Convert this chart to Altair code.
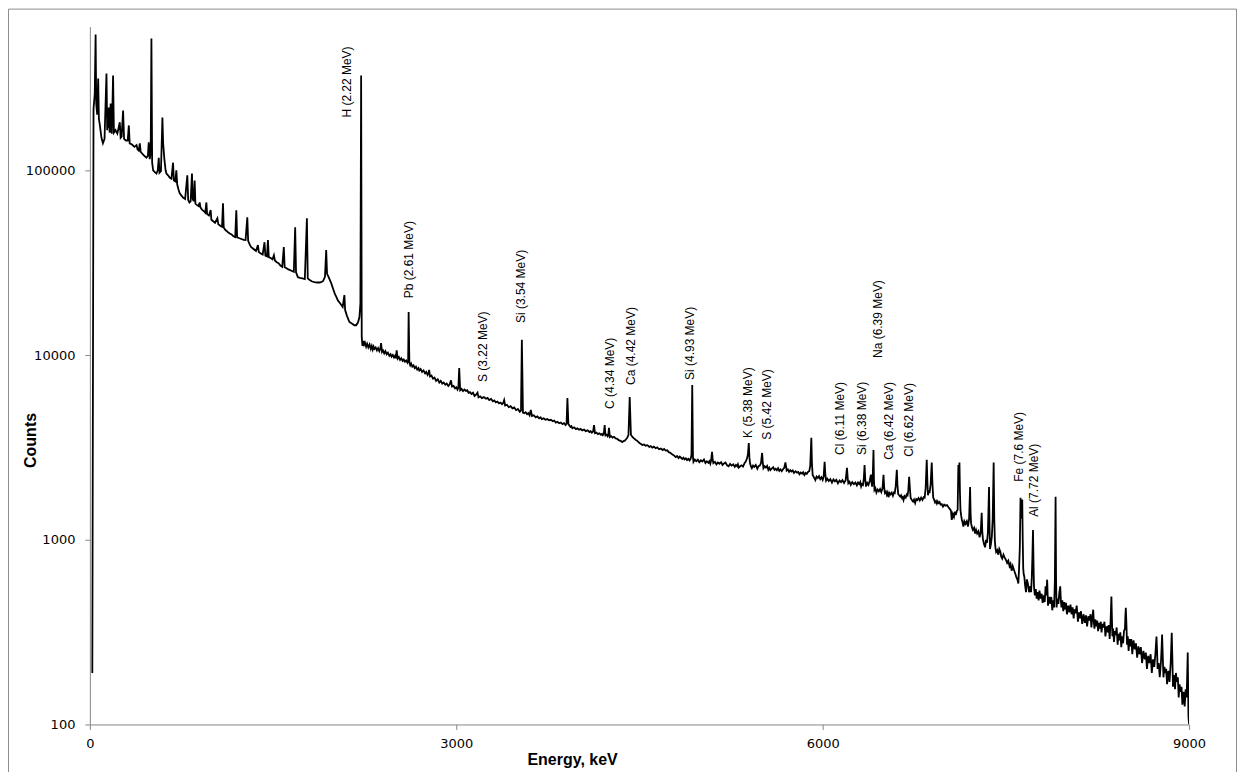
import altair as alt
import pandas as pd

# ---- Spectrum (energy in keV, counts), in segments ----
low_energy = [
    20, 30, 40, 47, 52, 60, 68, 74, 82, 95, 107, 120, 136, 142, 148, 152, 155, 162, 170, 176,
    180, 190, 197, 210, 225, 245, 252, 260, 272, 280, 295, 310, 319, 326, 345, 365, 382, 390, 400, 409,
    416, 440, 463, 475, 482, 490, 498, 504, 510, 518, 530, 545, 556, 564, 570, 582, 594, 600, 610, 620,
    627, 640, 655, 668, 681, 688, 700, 708, 715, 725, 736, 750, 765, 780, 798, 805, 815, 825, 836, 842,
    850, 858, 864, 875, 890, 899, 905, 920, 935, 945, 954, 960, 975, 989, 995, 1010, 1025, 1044, 1052, 1070,
    1082, 1090, 1096, 1110, 1120, 1131, 1145, 1160, 1175, 1190, 1199, 1206, 1220, 1240, 1260, 1275, 1289, 1296, 1310, 1321,
    1340, 1360, 1376, 1383, 1400, 1415, 1430, 1437, 1450, 1458, 1465, 1480, 1495, 1507, 1515, 1530, 1545, 1560, 1575, 1588,
    1595, 1610, 1625, 1640, 1655, 1670, 1681, 1688, 1703, 1720, 1740, 1760, 1777, 1784, 1800, 1820, 1839, 1860, 1880, 1894,
    1910, 1925, 1935, 1942, 1955, 1976, 1990, 2005, 2020, 2030, 2050, 2070, 2084, 2090, 2105, 2125, 2145, 2165, 2180, 2195,
    2207, 2215, 2221,
]
low_counts = [
    190, 215000, 260000, 543000, 230000, 200000, 314000, 190000, 175000, 150000, 140000, 148000, 334000, 165000, 200000, 170000, 219000, 160000, 230000, 165000,
    158000, 326000, 160000, 165000, 158000, 182000, 150000, 152000, 211000, 148000, 145000, 145000, 175000, 140000, 138000, 134000, 137000, 130000, 128000, 140000,
    126000, 121000, 117000, 120000, 142000, 115000, 125000, 517000, 110000, 100000, 98000, 96000, 100000, 117000, 97000, 99000, 193000, 140000, 115000, 100000,
    96000, 94000, 91000, 90000, 110000, 88000, 87000, 100000, 84000, 79000, 75000, 73000, 71000, 70000, 94000, 69000, 67000, 68000, 96000, 70000,
    68000, 88000, 66000, 65000, 64000, 67000, 63000, 61000, 60000, 59000, 67000, 58000, 57000, 61000, 54000, 53000, 52000, 55000, 51000, 50000,
    49500, 66400, 49000, 47500, 47000, 46200, 45500, 45000, 44000, 43500, 60800, 43400, 43000, 42500, 42000, 41900, 55700, 41500, 39500, 38400,
    37500, 36600, 39400, 36100, 35500, 35000, 40800, 34500, 34200, 41900, 33900, 33500, 33000, 34700, 32500, 31800, 31400, 30500, 30000, 38400,
    29900, 29500, 29100, 28800, 28500, 28200, 49200, 28000, 26400, 26200, 26000, 25800, 55000, 26000, 25500, 25000, 24800, 24700, 24700, 24800,
    25200, 26500, 37000, 27500, 26400, 24500, 23000, 21500, 20500, 19800, 19000, 18200, 21100, 17500, 16300, 15100, 14800, 14500, 14500, 15000,
    16000, 19000, 326000,
]

mid_energy = [
    2226, 2232, 2238, 2245, 2252, 2262, 2270, 2280, 2290, 2300, 2308, 2316, 2323, 2330, 2340, 2350, 2360, 2370, 2378, 2384,
    2392, 2400, 2410, 2420, 2430, 2440, 2452, 2462, 2470, 2480, 2490, 2498, 2505, 2512, 2520, 2530, 2540, 2550, 2561, 2570,
    2580, 2590, 2600, 2606, 2610, 2616, 2623, 2630, 2640, 2650, 2660, 2670, 2680, 2690, 2697, 2708, 2720, 2732, 2745, 2755,
    2765, 2772, 2778, 2785, 2797, 2810, 2822, 2835, 2848, 2861, 2873, 2885, 2897, 2910, 2922, 2935, 2946, 2957, 2965, 2978,
    2990, 3000, 3010, 3017, 3024, 3032, 3043, 3055, 3067, 3079, 3090, 3100, 3112, 3125, 3137, 3150, 3162, 3174, 3182, 3196,
    3210, 3226, 3243, 3256, 3270, 3285, 3300, 3312, 3324, 3337, 3350, 3362, 3375, 3384, 3392, 3400, 3415, 3430, 3445, 3460,
    3475, 3490, 3505, 3520, 3530, 3537, 3546, 3556, 3568, 3580, 3590, 3600, 3610, 3620, 3635, 3650, 3664, 3678, 3690, 3700,
    3715, 3730, 3745, 3760, 3775, 3790, 3802, 3815, 3828, 3842, 3856, 3870, 3882, 3895, 3903, 3910, 3918, 3926, 3935, 3943,
    3951, 3965, 3980, 3992, 4005, 4018, 4032, 4046, 4060, 4075, 4090, 4100, 4110, 4120, 4128, 4136, 4148, 4160, 4172, 4185,
    4193, 4200, 4208, 4215, 4222, 4232, 4240, 4245, 4250, 4258, 4268, 4280, 4292, 4305, 4318, 4330, 4345, 4359, 4370, 4380,
    4390, 4400, 4410, 4420, 4430, 4442, 4455, 4468, 4480, 4490, 4500, 4512, 4523, 4537, 4550, 4565, 4580, 4592, 4605, 4618,
    4632, 4646, 4660, 4675, 4690, 4702, 4714, 4727, 4740, 4755, 4770, 4783, 4796, 4808, 4820, 4830, 4840, 4850, 4860, 4870,
    4880, 4890, 4900, 4910, 4920, 4926, 4932, 4938, 4942, 4953, 4965, 4978, 4990, 5003, 5015, 5028, 5040, 5052, 5065, 5072,
    5080, 5087, 5094, 5100, 5105, 5118, 5130, 5142, 5155, 5168, 5180, 5192, 5204, 5217, 5230, 5242, 5255, 5268, 5280, 5290,
    5300, 5306, 5313, 5325, 5335, 5348, 5360, 5370, 5380, 5388, 5395, 5400, 5405, 5412, 5420, 5430, 5440, 5452, 5465, 5475,
    5485, 5495, 5504, 5510, 5515, 5525, 5535, 5545, 5555, 5563, 5572, 5583, 5595, 5605, 5615, 5625, 5635, 5645, 5655, 5665,
    5675, 5685, 5695, 5705, 5715, 5725, 5735, 5745, 5755, 5765, 5778, 5790, 5800, 5810, 5820, 5831, 5840, 5850, 5860, 5870,
    5880, 5890, 5898, 5907, 5912, 5918, 5928, 5940, 5950, 5960, 5970, 5980, 5990, 6000, 6008, 6016, 6022, 6028, 6038, 6050,
    6063, 6076, 6088, 6100, 6112, 6125, 6138, 6150, 6162, 6175, 6188, 6199, 6205, 6210, 6220, 6230, 6242, 6255, 6268, 6280,
    6290, 6300, 6308, 6315, 6322, 6330, 6337, 6343, 6349, 6355, 6365, 6375, 6385, 6395, 6400, 6405, 6410, 6416, 6420, 6424,
    6432, 6440, 6450, 6460, 6470, 6480, 6490, 6498, 6504, 6510, 6518, 6525, 6532, 6539, 6547, 6555, 6565, 6575, 6583, 6590,
    6598, 6607, 6612, 6618, 6626, 6635, 6642, 6650, 6656, 6662, 6671, 6680, 6688, 6695, 6701, 6708, 6714, 6720, 6730, 6740,
    6748, 6757, 6766, 6775, 6785, 6795, 6806, 6817, 6827, 6835, 6843, 6852, 6857, 6862, 6868, 6875, 6884, 6893, 6899, 6905,
    6912, 6920, 6928, 6935, 6942, 6948, 6957, 6965, 6975, 6985, 6995, 7005, 7018, 7030, 7040,
]
mid_counts = [
    12500, 11200, 11900, 11400, 11700, 11100, 11500, 11000, 11400, 10800, 11200, 10700, 11100, 10800, 11000, 10600, 10900, 10500, 10800, 11600,
    10400, 10600, 10200, 10500, 10100, 10300, 9900, 10100, 9800, 10000, 9700, 9900, 9600, 10600, 9550, 9750, 9400, 9600, 9300, 9450,
    9200, 9350, 9100, 9300, 17100, 9100, 8800, 9000, 8650, 8800, 8500, 8650, 8350, 8500, 8250, 8400, 8100, 8250, 7950, 8100,
    7800, 7950, 8300, 7650, 7750, 7450, 7550, 7250, 7400, 7100, 7250, 7000, 7100, 6900, 7000, 6800, 6950, 7300, 6750, 6800,
    6600, 6700, 6500, 6650, 8510, 6450, 6550, 6380, 6500, 6400, 6450, 6250, 6300, 6150, 6250, 6000, 6100, 6260, 5900, 5980,
    5850, 5920, 5800, 5860, 5700, 5780, 5620, 5680, 5540, 5600, 5470, 5530, 5420, 5500, 5700, 5330, 5380, 5220, 5290, 5140,
    5200, 5030, 5100, 4930, 5000, 12100, 4880, 4840, 4900, 4780, 4850, 4720, 5040, 4680, 4720, 4600, 4650, 4540, 4600, 4500,
    4540, 4460, 4500, 4430, 4460, 4380, 4420, 4310, 4350, 4270, 4310, 4230, 4280, 4180, 4250, 5850, 4230, 4150, 4080, 4120,
    4010, 4060, 3970, 4010, 3940, 3980, 3910, 3950, 3870, 3910, 3830, 3870, 3800, 3850, 4180, 3770, 3800, 3730, 3770, 3700,
    3740, 3680, 3750, 4180, 3670, 3700, 3630, 3700, 4030, 3600, 3640, 3570, 3610, 3540, 3520, 3460, 3430, 3380, 3420, 3440,
    3500, 3560, 3700, 5930, 3700, 3600, 3540, 3480, 3440, 3390, 3340, 3300, 3260, 3280, 3230, 3250, 3180, 3210, 3150, 3190,
    3130, 3160, 3090, 3120, 3060, 3100, 3040, 3050, 2980, 2950, 2890, 2860, 2800, 2840, 2770, 2820, 2780, 2740, 2780, 2720,
    2760, 2700, 2740, 2690, 2760, 2900, 6890, 2800, 2640, 2720, 2660, 2710, 2630, 2690, 2650, 2720, 2600, 2660, 2610, 2660,
    2580, 2700, 2990, 2700, 2600, 2640, 2560, 2620, 2580, 2630, 2540, 2590, 2620, 2530, 2500, 2570, 2520, 2560, 2480, 2540,
    2500, 2560, 2460, 2500, 2530, 2490, 2600, 2650, 2750, 2900, 3340, 2800, 2600, 2500, 2440, 2520, 2480, 2540, 2420, 2500,
    2520, 2600, 2950, 2600, 2440, 2500, 2460, 2510, 2390, 2450, 2380, 2430, 2470, 2390, 2420, 2380, 2440, 2360, 2400, 2350,
    2410, 2450, 2620, 2370, 2400, 2330, 2380, 2340, 2370, 2300, 2350, 2310, 2330, 2260, 2310, 2280, 2320, 2240, 2300, 2270,
    2330, 2350, 2500, 3560, 2600, 2240, 2180, 2100, 2200, 2160, 2210, 2130, 2180, 2110, 2200, 2640, 2250, 2090, 2140, 2080,
    2130, 2040, 2120, 2070, 2110, 2020, 2090, 2050, 2100, 2030, 2100, 2450, 2150, 2020, 2060, 1980, 2050, 2000, 2040, 1970,
    2040, 2000, 2050, 1940, 2000, 1980, 2150, 2540, 2100, 1940, 2030, 1980, 2080, 2250, 2050, 1940, 2200, 3060, 2100, 1860,
    1900, 1800, 1870, 1830, 1880, 1810, 1900, 2250, 1900, 1790, 1820, 1750, 1800, 1700, 1790, 1760, 1800, 1730, 1800, 1790,
    1950, 2390, 2000, 1770, 1740, 1710, 1740, 1680, 1700, 1640, 1720, 1690, 1760, 1740, 1850, 2190, 1900, 1690, 1640, 1610,
    1650, 1580, 1660, 1640, 1680, 1630, 1690, 1640, 1700, 1690, 1900, 2710, 2100, 1740, 1850, 1790, 2000, 2620, 2000, 1690,
    1650, 1590, 1620, 1570, 1610, 1580, 1600, 1550, 1560, 1510, 1550, 1530, 1540, 1500, 1470,
]

high_energy = [
    7050, 7057, 7066, 7075, 7083, 7090, 7098, 7105, 7111, 7116, 7120, 7124, 7128, 7134, 7140, 7146, 7152, 7160, 7170, 7180,
    7190, 7199, 7207, 7211, 7215, 7222, 7230, 7240, 7248, 7256, 7265, 7275, 7285, 7294, 7302, 7307, 7312, 7320, 7330, 7337,
    7345, 7353, 7362, 7366, 7370, 7378, 7385, 7392, 7400, 7405, 7410, 7415, 7420, 7429, 7438, 7446, 7455, 7462, 7470, 7480,
    7490, 7500, 7510, 7520, 7530, 7538, 7547, 7556, 7565, 7575, 7585, 7594, 7602, 7608, 7614, 7620, 7624, 7628, 7634, 7638,
    7642, 7646, 7651, 7658, 7665, 7672, 7680, 7690, 7700, 7706, 7712, 7717, 7722, 7727, 7730, 7737, 7745, 7752, 7760, 7768,
    7775, 7784, 7793, 7801, 7810, 7818, 7825, 7831, 7838, 7845, 7855, 7865, 7872, 7880, 7888, 7895, 7901, 7907, 7911, 7915,
    7922, 7930, 7938, 7945, 7950, 7955, 7962, 7970, 7978, 7985, 7992, 8000, 8010, 8020, 8029, 8038, 8046, 8055, 8062, 8070,
    8080, 8090, 8098, 8105, 8115, 8125, 8136, 8147, 8156, 8165, 8175, 8185, 8193, 8200, 8208, 8215, 8220, 8225, 8232, 8240,
    8248, 8255, 8262, 8270, 8277, 8283, 8291, 8300, 8307, 8315, 8325, 8335, 8342, 8350, 8357, 8364, 8368, 8372, 8378, 8385,
    8392, 8400, 8407, 8415, 8422, 8430, 8437, 8445, 8452, 8460, 8467, 8475, 8478, 8482, 8487, 8492, 8498, 8505, 8512, 8520,
    8527, 8535, 8545, 8556, 8565, 8575, 8585, 8595, 8605, 8615, 8626, 8637, 8646, 8655, 8665, 8675, 8685, 8695, 8705, 8715,
    8724, 8733, 8738, 8742, 8751, 8760, 8770, 8775, 8779, 8784, 8790, 8798, 8805, 8812, 8820, 8830, 8840, 8850, 8858, 8863,
    8868, 8876, 8885, 8892, 8900, 8908, 8915, 8922, 8930, 8938, 8945, 8955, 8964, 8972, 8980, 8985, 8989, 8993, 8995, 9000,
]
high_counts = [
    1440, 1280, 1380, 1330, 1420, 1360, 1430, 1450, 2540, 2300, 2620, 1800, 1450, 1350, 1280, 1240, 1180, 1260, 1220, 1260,
    1180, 1300, 1930, 1400, 1230, 1170, 1130, 1160, 1080, 1130, 1080, 1110, 1030, 1100, 1400, 1100, 1010, 950, 910, 1000,
    960, 1100, 1930, 1200, 890, 950, 1040, 1300, 2620, 1300, 980, 900, 860, 880, 830, 890, 860, 810, 790, 830,
    800, 780, 750, 770, 720, 740, 680, 720, 690, 660, 630, 610, 580, 700, 900, 1690, 1300, 1500, 1650, 1000,
    700, 650, 631, 560, 520, 610, 580, 520, 560, 520, 620, 800, 1130, 700, 560, 500, 540, 480, 520, 470,
    530, 480, 510, 455, 500, 460, 560, 500, 608, 440, 490, 450, 490, 415, 470, 430, 600, 1710, 600, 430,
    480, 450, 520, 560, 470, 430, 470, 410, 460, 420, 455, 395, 440, 405, 445, 395, 430, 375, 420, 400,
    440, 360, 405, 375, 410, 350, 395, 355, 390, 340, 385, 365, 395, 335, 380, 418, 360, 330, 370, 340,
    365, 320, 355, 330, 360, 315, 350, 335, 360, 300, 340, 315, 345, 290, 360, 492, 380, 300, 330, 280,
    320, 305, 335, 270, 310, 285, 315, 262, 300, 275, 320, 330, 380, 428, 350, 270, 300, 250, 290, 265,
    290, 240, 285, 255, 275, 230, 265, 240, 262, 215, 250, 225, 245, 200, 235, 215, 240, 190, 225, 205,
    240, 299, 250, 200, 215, 180, 220, 260, 307, 240, 180, 205, 190, 200, 165, 195, 170, 220, 314, 230,
    160, 185, 155, 190, 170, 180, 140, 165, 150, 160, 128, 150, 125, 155, 140, 190, 245, 140, 110, 100,
]

# ---- Peak annotations: text, energy (keV) and counts at which the text starts ----
label_text = [
    "H (2.22 MeV)", "Pb (2.61 MeV)", "S  (3.22 MeV)", "Si (3.54 MeV)", "C (4.34 MeV)",
    "Ca (4.42 MeV)", "Si (4.93 MeV)", "K (5.38 MeV)", "S  (5.42 MeV)", "Cl (6.11 MeV)",
    "Si (6.38 MeV)", "Na (6.39 MeV)", "Ca (6.42 MeV)", "Cl (6.62 MeV)", "Fe (7.6 MeV)",
    "Al (7.72 MeV)",
]
label_energy = [2109, 2616, 3215, 3529, 4256, 4428, 4913, 5389, 5545, 6144, 6321, 6457, 6539, 6703, 7610, 7733]
label_counts = [193000, 20300, 7150, 14900, 5110, 6890, 7330, 3560, 3480, 2880, 2880, 9640, 2710, 2810, 2060, 1330]

x_ticks = [0, 3000, 6000, 9000]
y_ticks = [100, 1000, 10000, 100000]

spec = pd.DataFrame({
    "E": low_energy + mid_energy + high_energy,
    "C": low_counts + mid_counts + high_counts,
})
labels = pd.DataFrame({"t": label_text, "E": label_energy, "C": label_counts})

W, H = 1101, 699
AX = "#868686"

xscale = alt.Scale(domain=[0, 9000], nice=False, zero=False)
yscale = alt.Scale(type="log", domain=[100, 600000], nice=False)

line = alt.Chart(spec).mark_line(color="black", strokeWidth=1.8, clip=True).encode(
    x=alt.X("E:Q", scale=xscale, axis=alt.Axis(
        values=x_ticks, format="d", grid=False, title="Energy, keV", domainColor=AX, tickColor=AX,
        tickSize=5, labelFont="DejaVu Sans", labelFontSize=13, labelColor="#000",
        labelPadding=8, titleFont="Liberation Sans", titleFontSize=16, titleFontWeight="bold",
        titleColor="#000", titleX=483, titleY=35, titleAlign="center", titleBaseline="middle",
        labelFlush=False)),
    y=alt.Y("C:Q", scale=yscale, axis=alt.Axis(
        values=y_ticks, format="d", grid=False, title="Counts", domainColor=AX, tickColor=AX,
        tickSize=5, labelFont="DejaVu Sans", labelFontSize=13, labelColor="#000",
        labelPadding=10, titleFont="Liberation Sans", titleFontSize=16, titleFontWeight="bold",
        titleColor="#000", titleX=-59, titleY=414, titleAngle=270, titleAlign="center",
        titleBaseline="middle", labelFlush=False)),
)

text = alt.Chart(labels).mark_text(
    angle=270, align="left", baseline="middle", font="Liberation Sans", fontSize=12, color="#000"
).encode(
    x=alt.X("E:Q", scale=xscale),
    y=alt.Y("C:Q", scale=yscale),
    text="t:N",
)

frame_df = pd.DataFrame({"k": [0]})
frame_left = alt.Chart(frame_df).mark_rule(color="#8c8c8c", strokeWidth=1).encode(
    x=alt.value(-81.5), y=alt.value(-17.5), y2=alt.value(H + 60))
frame_top = alt.Chart(frame_df).mark_rule(color="#8c8c8c", strokeWidth=1).encode(
    x=alt.value(-81.5), x2=alt.value(1148.5), y=alt.value(-17.5))
frame_right = alt.Chart(frame_df).mark_rule(color="#8c8c8c", strokeWidth=1).encode(
    x=alt.value(1148.5), y=alt.value(-17.5), y2=alt.value(H + 60))

chart = alt.layer(line, text, frame_left, frame_top, frame_right).properties(
    width=W, height=H,
    autosize=alt.AutoSizeParams(type="none"),
    padding={"left": 82, "top": 18, "right": 50, "bottom": 47},
    background="white",
).configure_view(stroke=None)

chart.save("out.html", embed_options={"renderer": "svg", "actions": False})
